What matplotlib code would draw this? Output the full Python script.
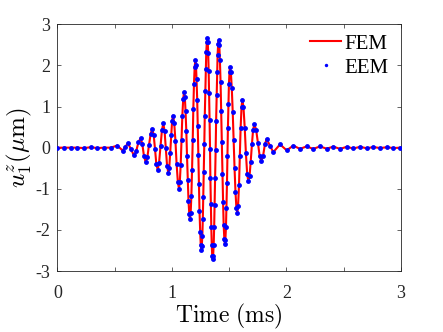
import matplotlib
matplotlib.use("Agg")
import matplotlib.pyplot as plt

# Samples (time in ms, displacement in um).
# The EEM points sit on the FEM curve, so both are drawn from these samples.
time_ms = [
    0.000, 0.058, 0.116, 0.175, 0.233, 0.291, 0.349, 0.407, 0.465, 0.524,
    0.570, 0.594, 0.617, 0.643, 0.669, 0.688, 0.708, 0.727, 0.742, 0.756, 0.771,
    0.786, 0.800, 0.815, 0.829, 0.841, 0.853, 0.864, 0.876, 0.888, 0.901, 0.913, 0.925,
    0.936, 0.947, 0.958, 0.969, 0.977, 0.985, 0.994, 1.002, 1.010,
    1.020, 1.031, 1.041, 1.052, 1.062, 1.069, 1.077, 1.084, 1.091, 1.099, 1.106,
    1.113, 1.119, 1.126, 1.132, 1.139, 1.145, 1.152, 1.158,
    1.164, 1.170, 1.176, 1.182, 1.187, 1.193, 1.199, 1.205,
    1.210, 1.215, 1.221, 1.226, 1.231, 1.236, 1.241, 1.247, 1.252, 1.257,
    1.261, 1.266, 1.270, 1.274, 1.279, 1.283, 1.287, 1.292, 1.296, 1.300, 1.305, 1.309,
    1.313, 1.317, 1.321, 1.325, 1.329, 1.333, 1.336, 1.340, 1.344, 1.348, 1.352, 1.356,
    1.360, 1.365, 1.369, 1.373, 1.378, 1.382, 1.386, 1.391, 1.395, 1.399, 1.404, 1.408,
    1.414, 1.419, 1.425, 1.430, 1.436, 1.441, 1.447, 1.452, 1.458, 1.463,
    1.467, 1.472, 1.476, 1.481, 1.485, 1.489, 1.494, 1.498, 1.503, 1.507,
    1.515, 1.523, 1.531, 1.539, 1.547, 1.555, 1.563, 1.571,
    1.578, 1.586, 1.593, 1.600, 1.608, 1.615,
    1.625, 1.636, 1.646, 1.657, 1.667,
    1.678, 1.688, 1.699, 1.709, 1.720,
    1.735, 1.751, 1.766, 1.781,
    1.796, 1.812, 1.827, 1.856, 1.885,
    1.944, 2.002, 2.060, 2.118, 2.176, 2.234, 2.293, 2.351, 2.410, 2.468,
    2.526, 2.584, 2.643, 2.701, 2.759, 2.817, 2.876, 2.934, 2.992,
]

u1z_um = [
    0.00, 0.00, 0.00, 0.00, -0.01, 0.01, -0.01, 0.00, 0.00, 0.05,
    -0.07, 0.02, 0.11, -0.04, -0.19, -0.09, 0.13, 0.23, 0.09, -0.20, -0.35,
    -0.23, 0.06, 0.34, 0.46, 0.31, -0.04, -0.39, -0.54, -0.37, 0.03, 0.42, 0.59,
    0.41, -0.02, -0.44, -0.62, -0.49, -0.14, 0.30, 0.65, 0.78,
    0.61, 0.17, -0.39, -0.83, -1.00, -0.84, -0.41, 0.18, 0.76, 1.19, 1.35,
    1.23, 0.90, 0.40, -0.20, -0.79, -1.29, -1.62, -1.74,
    -1.59, -1.18, -0.55, 0.19, 0.93, 1.56, 1.97, 2.12,
    2.01, 1.68, 1.17, 0.53, -0.18, -0.89, -1.53, -2.04, -2.37, -2.48,
    -2.39, -2.14, -1.73, -1.20, -0.58, 0.09, 0.76, 1.38, 1.91, 2.32, 2.57, 2.66,
    2.57, 2.30, 1.87, 1.32, 0.67, -0.03, -0.73, -1.38, -1.93, -2.36, -2.63, -2.72,
    -2.63, -2.36, -1.94, -1.39, -0.75, -0.06, 0.64, 1.28, 1.83, 2.25, 2.52, 2.61,
    2.49, 2.14, 1.59, 0.90, 0.13, -0.64, -1.33, -1.88, -2.23, -2.35,
    -2.24, -1.94, -1.46, -0.86, -0.20, 0.47, 1.07, 1.55, 1.85, 1.96,
    1.83, 1.44, 0.87, 0.19, -0.50, -1.07, -1.46, -1.59,
    -1.41, -0.90, -0.21, 0.48, 0.99, 1.17,
    0.98, 0.48, -0.13, -0.63, -0.82,
    -0.69, -0.34, 0.09, 0.44, 0.57,
    0.44, 0.12, -0.20, -0.33,
    -0.20, 0.08, 0.21, 0.05, -0.11,
    0.08, -0.065, 0.05, -0.03, 0.03, -0.03, 0.03, -0.025, 0.025, -0.03,
    0.02, -0.02, 0.02, -0.015, 0.015, -0.01, 0.01, -0.01, 0.00,
]

xticks = [0, 0.5, 1, 1.5, 2, 2.5, 3]
xtick_labels = ["0", "", "1", "", "2", "", "3"]
yticks = [-3, -2, -1, 0, 1, 2, 3]
ytick_labels = ["-3", "-2", "-1", "0", "1", "2", "3"]

plt.rcParams["font.family"] = "serif"
plt.rcParams["font.serif"] = ["Liberation Serif", "DejaVu Serif"]
plt.rcParams["mathtext.fontset"] = "cm"

axis_color = "#262626"

fig = plt.figure(figsize=(4.43, 3.32), dpi=100)
ax = fig.add_axes([0.1294, 0.1837, 0.7758, 0.7431])

ax.plot(time_ms, u1z_um, color="#ff0000", linewidth=1.5, label="FEM", zorder=2)
ax.plot(time_ms, u1z_um, linestyle="none", marker="o", markersize=3.5,
        markeredgewidth=0, color="#0000ff", label="EEM", zorder=3)

ax.set_xlim(0, 3)
ax.set_ylim(-3, 3)
ax.set_xticks(xticks)
ax.set_xticklabels(xtick_labels)
ax.set_yticks(yticks)
ax.set_yticklabels(ytick_labels)

ax.tick_params(direction="in", length=3, width=0.5, top=True, right=True,
               colors=axis_color, labelsize=13)
ax.tick_params(axis="x", pad=10)
ax.tick_params(axis="y", pad=5)
for spine in ax.spines.values():
    spine.set_color(axis_color)
    spine.set_linewidth(0.6)

ax.set_xlabel(r"$\mathrm{Time\ (ms)}$", fontsize=17, labelpad=0)
ax.set_ylabel(r"$u_1^z(\mu\mathrm{m})$", fontsize=18, labelpad=1)

ax.legend(loc="upper left", bbox_to_anchor=(0.735, 0.96), frameon=False,
          fontsize=15, handlelength=1.5, handletextpad=0.15,
          labelspacing=0.2, borderpad=0, borderaxespad=0, markerscale=0.7)

fig.savefig("out.png", dpi=100)
plt.close(fig)
